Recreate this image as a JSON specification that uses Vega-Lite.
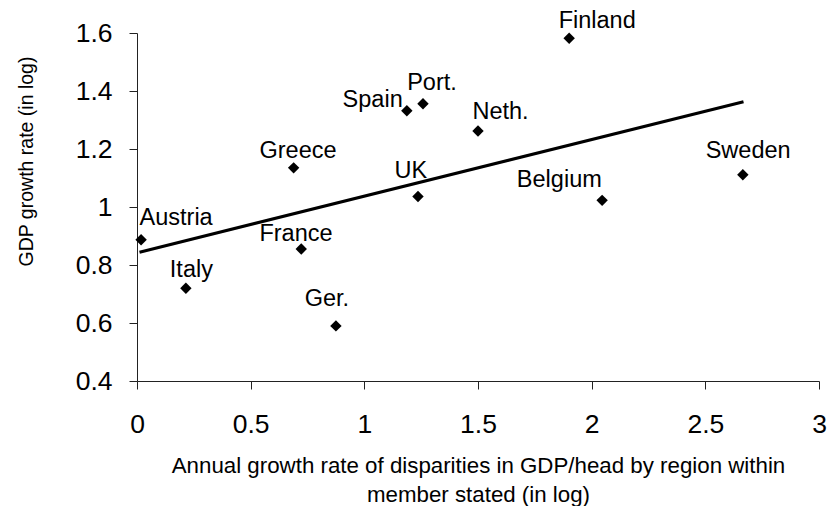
{
  "$schema": "https://vega.github.io/schema/vega-lite/v6.json",
  "width": 682,
  "height": 348,
  "autosize": {"type": "none"},
  "padding": {"left": 137, "top": 33, "right": 8, "bottom": 125},
  "background": "white",
  "config": {
    "view": {"stroke": null},
    "font": "Liberation Sans",
    "text": {"font": "Liberation Sans", "fontSize": 23.5, "color": "black", "align": "center", "baseline": "alphabetic"}
  },
  "datasets": {
    "countries": [
      {"country": "Austria", "x": 0.018, "y": 0.887},
      {"country": "Italy", "x": 0.215, "y": 0.72},
      {"country": "Greece", "x": 0.689, "y": 1.135},
      {"country": "France", "x": 0.7225, "y": 0.855},
      {"country": "Ger.", "x": 0.875, "y": 0.59},
      {"country": "Spain", "x": 1.187, "y": 1.332},
      {"country": "UK", "x": 1.236, "y": 1.036},
      {"country": "Port.", "x": 1.258, "y": 1.356},
      {"country": "Neth.", "x": 1.5, "y": 1.262},
      {"country": "Finland", "x": 1.901, "y": 1.582},
      {"country": "Belgium", "x": 2.046, "y": 1.023},
      {"country": "Sweden", "x": 2.665, "y": 1.111}
    ],
    "trend": [
      {"x": 0.011, "y": 0.844},
      {"x": 2.668, "y": 1.363}
    ]
  },
  "encoding": {
    "x": {
      "field": "x",
      "type": "quantitative",
      "scale": {"domain": [0, 3], "nice": false, "zero": false},
      "axis": {
        "values": [0, 0.5, 1, 1.5, 2, 2.5, 3],
        "format": ".1~f",
        "grid": false,
        "labelFont": "Liberation Sans",
        "labelFontSize": 26.5,
        "labelColor": "black",
        "labelPadding": 22,
        "labelFlush": false,
        "labelOverlap": false,
        "tickSize": 8,
        "tickColor": "#222",
        "domainColor": "#222",
        "title": ["Annual growth rate of disparities in GDP/head by region within", "member stated (in log)"],
        "titleFont": "Liberation Sans",
        "titleFontSize": 22.3,
        "titleFontWeight": "normal",
        "titleColor": "black",
        "titleLineHeight": 29,
        "titleBaseline": "alphabetic",
        "titleAlign": "center",
        "titleX": 341,
        "titleY": 91
      }
    },
    "y": {
      "field": "y",
      "type": "quantitative",
      "scale": {"domain": [0.4, 1.6], "nice": false, "zero": false},
      "axis": {
        "values": [0.4, 0.6, 0.8, 1, 1.2, 1.4, 1.6],
        "format": ".1~f",
        "grid": false,
        "labelFont": "Liberation Sans",
        "labelFontSize": 26.5,
        "labelColor": "black",
        "labelPadding": 17,
        "labelFlush": false,
        "labelOverlap": false,
        "tickSize": 8,
        "tickColor": "#222",
        "domainColor": "#222",
        "title": "GDP growth rate (in log)",
        "titleFont": "Liberation Sans",
        "titleFontSize": 19.5,
        "titleFontWeight": "normal",
        "titleColor": "black",
        "titleAngle": -90,
        "titleBaseline": "alphabetic",
        "titleAlign": "center",
        "titleX": -105,
        "titleY": 128
      }
    }
  },
  "layer": [
    {
      "data": {"name": "trend"},
      "mark": {"type": "line", "color": "black", "strokeWidth": 3.2},
      "encoding": {}
    },
    {
      "data": {"name": "countries"},
      "mark": {"type": "point", "shape": "diamond", "filled": true, "size": 130, "color": "black", "opacity": 1}
    },
    {"data": {"name": "countries"}, "transform": [{"filter": "datum.country === 'Austria'"}], "mark": {"type": "text", "dx": 35, "dy": -15}, "encoding": {"text": {"field": "country"}}},
    {"data": {"name": "countries"}, "transform": [{"filter": "datum.country === 'Greece'"}], "mark": {"type": "text", "dx": 4.4, "dy": -9.4}, "encoding": {"text": {"field": "country"}}},
    {"data": {"name": "countries"}, "transform": [{"filter": "datum.country === 'France'"}], "mark": {"type": "text", "dx": -5.3, "dy": -7.6}, "encoding": {"text": {"field": "country"}}},
    {"data": {"name": "countries"}, "transform": [{"filter": "datum.country === 'Spain'"}], "mark": {"type": "text", "dx": -34.2, "dy": -4}, "encoding": {"text": {"field": "country"}}},
    {"data": {"name": "countries"}, "transform": [{"filter": "datum.country === 'Port.'"}], "mark": {"type": "text", "dx": 9, "dy": -13.7}, "encoding": {"text": {"field": "country"}}},
    {"data": {"name": "countries"}, "transform": [{"filter": "datum.country === 'UK'"}], "mark": {"type": "text", "dx": -7.2, "dy": -19}, "encoding": {"text": {"field": "country"}}},
    {"data": {"name": "countries"}, "transform": [{"filter": "datum.country === 'Neth.'"}], "mark": {"type": "text", "dx": 22.5, "dy": -11.7}, "encoding": {"text": {"field": "country"}}},
    {"data": {"name": "countries"}, "transform": [{"filter": "datum.country === 'Finland'"}], "mark": {"type": "text", "dx": 28, "dy": -10.3}, "encoding": {"text": {"field": "country"}}},
    {"data": {"name": "countries"}, "transform": [{"filter": "datum.country === 'Belgium'"}], "mark": {"type": "text", "dx": -42.8, "dy": -13.6}, "encoding": {"text": {"field": "country"}}},
    {"data": {"name": "countries"}, "transform": [{"filter": "datum.country === 'Sweden'"}], "mark": {"type": "text", "dx": 5.3, "dy": -17}, "encoding": {"text": {"field": "country"}}},
    {"data": {"name": "countries"}, "transform": [{"filter": "datum.country === 'Italy'"}], "mark": {"type": "text", "dx": 5.5, "dy": -11.6}, "encoding": {"text": {"field": "country"}}},
    {"data": {"name": "countries"}, "transform": [{"filter": "datum.country === 'Ger.'"}], "mark": {"type": "text", "dx": -9, "dy": -19.6}, "encoding": {"text": {"field": "country"}}}
  ]
}
